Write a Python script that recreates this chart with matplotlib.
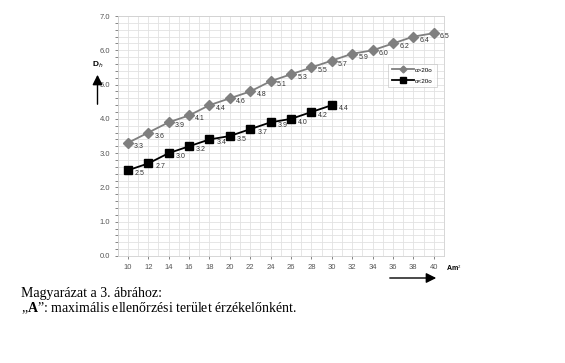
import matplotlib.pyplot as plt
import numpy as np

plt.rcParams['font.family'] = ['Liberation Sans', 'DejaVu Sans']
plt.rcParams['mathtext.fontset'] = 'custom'
plt.rcParams['mathtext.rm'] = 'Liberation Serif'
plt.rcParams['mathtext.bf'] = 'Liberation Serif:bold'

# adatok
x_gt = [10, 12, 14, 16, 18, 20, 22, 24, 26, 28, 30, 32, 34, 36, 38, 40]
y_gt = [3.3, 3.6, 3.9, 4.1, 4.4, 4.6, 4.8, 5.1, 5.3, 5.5, 5.7, 5.9, 6.0, 6.2, 6.4, 6.5]
x_lt = [10, 12, 14, 16, 18, 20, 22, 24, 26, 28, 30]
y_lt = [2.5, 2.7, 3.0, 3.2, 3.4, 3.5, 3.7, 3.9, 4.0, 4.2, 4.4]
x_ticks = np.arange(10, 41, 2)
y_ticks = np.arange(0, 7.1, 1.0)

fig = plt.figure(figsize=(5.65, 3.63), dpi=100)
ax = fig.add_axes([0.2083, 0.2948, 0.5775, 0.661])

ax.plot(x_gt, y_gt, color='#7f7f7f', lw=1.3, marker='D', ms=5, label='α>20o')
ax.plot(x_lt, y_lt, color='black', lw=1.3, marker='s', ms=5.8, label='α<20o')

for xv, yv in zip(x_gt, y_gt):
    ax.annotate(f'{yv:.1f}', (xv, yv), xytext=(4.5, -2.5), textcoords='offset points',
                fontsize=5, color='#333333', va='center', ha='left')
for xv, yv in zip(x_lt, y_lt):
    ax.annotate(f'{yv:.1f}', (xv, yv), xytext=(5, -2.5), textcoords='offset points',
                fontsize=5, color='#333333', va='center', ha='left')

ax.set_xlim(9, 41)
ax.set_ylim(0, 7)
ax.set_xticks(x_ticks)
ax.set_yticks(y_ticks)
ax.set_yticklabels([f'{v:.1f}' for v in y_ticks])
ax.set_xticks(np.arange(9, 42, 1), minor=True)
ax.set_yticks(np.arange(0, 7.01, 0.2), minor=True)
ax.grid(True, which='both', color='#e2e2e2', lw=0.6)
ax.set_axisbelow(True)
ax.tick_params(axis='both', which='both', labelsize=5.5, colors='#555555', length=2, width=0.5)
ax.tick_params(axis='x', which='major', pad=4)
ax.tick_params(axis='x', which='minor', length=0)
for s in ax.spines.values():
    s.set_color('#d0d0d0')
    s.set_linewidth(0.6)

leg = ax.legend(loc='upper left', bbox_to_anchor=(0.82, 0.815), fontsize=4.5,
                frameon=True, fancybox=False, edgecolor='#bbbbbb', markerscale=0.7,
                handlelength=3.5, borderpad=0.6, labelspacing=0.9, handletextpad=0.2)
leg.get_frame().set_linewidth(0.5)

# tengely feliratok, nyilak
fig.text(98 / 565, 1 - 65 / 363, 'D$_h$', fontsize=6, fontweight='bold', ha='center', va='center')
fig.add_artist(plt.matplotlib.patches.FancyArrowPatch(
    (97.5 / 565, 1 - 107 / 363), (97.5 / 565, 1 - 72 / 363), transform=fig.transFigure,
    arrowstyle='-|>,head_length=6,head_width=3', color='black', lw=1.0))
fig.add_artist(plt.matplotlib.patches.FancyArrowPatch(
    (387 / 565, 1 - 278 / 363), (439 / 565, 1 - 278 / 363), transform=fig.transFigure,
    arrowstyle='-|>,head_length=6,head_width=3', color='black', lw=1.0))
fig.text(446 / 565, 1 - 268 / 363, 'Am$^2$', fontsize=5, fontweight='bold', ha='left', va='center')

# magyarázat
fig.text(21 / 565, 1 - 293 / 363, 'Magyarázat a 3. ábrához:', family='Liberation Serif',
         fontsize=10, ha='left', va='center')
fig.text(21 / 565, 1 - 308 / 363, '„$\\mathbf{A}$”: maximális ellenőrzési terület érzékelőnként.',
         family='Liberation Serif', fontsize=10, ha='left', va='center')

fig.savefig('out.png', dpi=100)
